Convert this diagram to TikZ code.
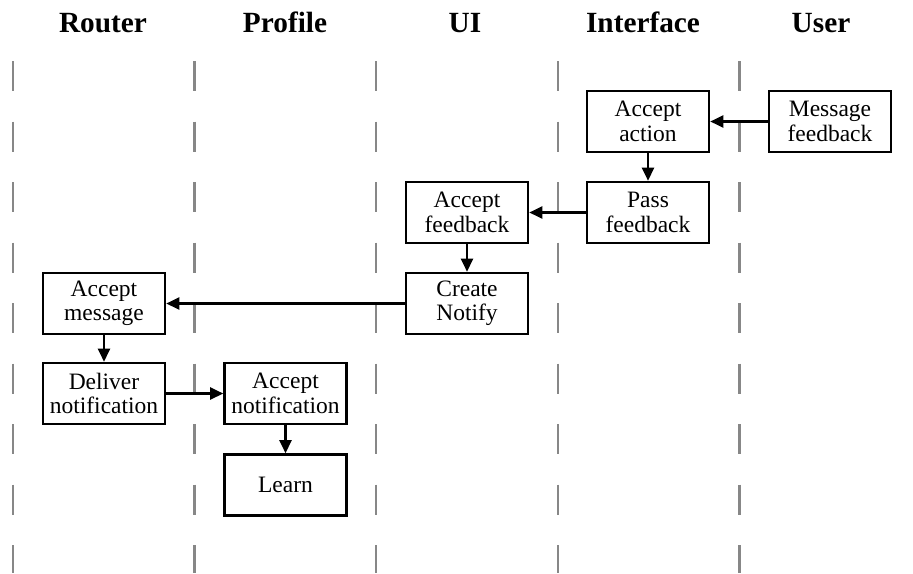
\documentclass[tikz,border=0pt]{standalone}
\usepackage{fontspec}
\setmainfont{Liberation Serif}
\usetikzlibrary{arrows.meta}

\begin{document}
\begin{tikzpicture}[x=1pt, y=-1pt,
  lanehead/.style={font=\fontsize{29.3}{32}\selectfont\bfseries, anchor=base, inner sep=0pt},
  lane/.style={draw=black!47, line width=2.5pt, dash pattern=on 30.25pt off 30.25pt},
  stepbox/.style={draw, line width=2.6pt, minimum width=122pt, minimum height=61pt,
    inner sep=0pt, align=center, font=\fontsize{23.5}{24.5}\selectfont},
  flow/.style={line width=2.5pt, -{Triangle[length=13pt, width=12pt]}}
]
\useasboundingbox (0,0) rectangle (913,573);

% swimlane titles
\node[lanehead] (hRouter)    at (103,32) {Router};
\node[lanehead] (hProfile)   at (285,32) {Profile};
\node[lanehead] (hUI)        at (465,32) {UI};
\node[lanehead] (hInterface) at (643,32) {Interface};
\node[lanehead] (hUser)      at (821,32) {User};

% lane separators
\foreach \x in {13, 194.6, 376.2, 557.8, 739.4}
  \draw[lane] (\x,61) -- (\x,573);

% activities
\node[stepbox] (msgfb)    at (830,121.5) {Message\\feedback};
\node[stepbox] (accact)   at (648,121.5) {Accept\\action};
\node[stepbox] (passfb)   at (648,212.5) {Pass\\feedback};
\node[stepbox] (accfb)    at (467,212.5) {Accept\\feedback};
\node[stepbox] (notify)   at (467,303.5) {Create\\Notify};
\node[stepbox] (accmsg)   at (104,303.5) {Accept\\message};
\node[stepbox] (deliver)  at (104,393.5) {Deliver\\notification};
\node[stepbox] (accnote)  at (285.5,393.5) {Accept\\notification};
\node[stepbox] (learn)    at (285.5,485) {Learn};

% control flow
\draw[flow] (msgfb.west)   -- (accact.east);
\draw[flow] (accact.south) -- (passfb.north);
\draw[flow] (passfb.west)  -- (accfb.east);
\draw[flow] (accfb.south)  -- (notify.north);
\draw[flow] (notify.west)  -- (accmsg.east);
\draw[flow] (accmsg.south) -- (deliver.north);
\draw[flow] (deliver.east) -- (accnote.west);
\draw[flow] (accnote.south) -- (learn.north);
\end{tikzpicture}
\end{document}
